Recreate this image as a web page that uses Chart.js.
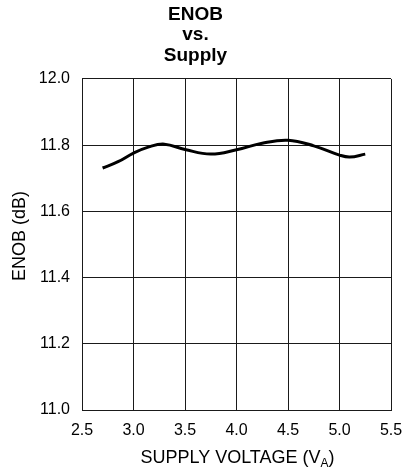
<!DOCTYPE html>
<html>
<head>
<meta charset="utf-8">
<script src="https://cdn.jsdelivr.net/npm/chart.js@4/dist/chart.umd.min.js"></script>
<style>
    html, body { margin: 0; padding: 0; background: #ffffff; }
    #wrap { width: 406px; height: 472px; position: relative; }
</style>
</head>
<body>
<div id="wrap"><canvas id="enob-chart"></canvas></div>
<script>
// Dados
const supplyVoltage = [2.7, 2.85, 3.0, 3.15, 3.3, 3.5, 3.75, 4.0, 4.25, 4.5, 4.75, 5.0, 5.1, 5.25];
const enobValues = [11.731, 11.750, 11.776, 11.795, 11.803, 11.787, 11.773, 11.786, 11.806, 11.815, 11.798, 11.770, 11.764, 11.773];
const xTickValues = [2.5, 3.0, 3.5, 4.0, 4.5, 5.0, 5.5];
const yTickValues = [11.0, 11.2, 11.4, 11.6, 11.8, 12.0];

const FONT = "'Liberation Sans', Arial, Helvetica, sans-serif";

// Títulos dos eixos (o do eixo X tem subscrito: V com A em baixo)
const axisTitlesPlugin = {
    id: 'axisTitles',
    afterDraw(chart) {
        const ctx = chart.ctx;
        const area = chart.chartArea;
        ctx.save();
        ctx.fillStyle = '#000000';

        // Eixo X
        const main = 'SUPPLY VOLTAGE (V';
        const sub = 'A';
        const tail = ')';
        ctx.textBaseline = 'alphabetic';
        ctx.textAlign = 'left';
        ctx.font = '18px ' + FONT;
        const wMain = ctx.measureText(main).width;
        const wTail = ctx.measureText(tail).width;
        ctx.font = '12px ' + FONT;
        const wSub = ctx.measureText(sub).width;
        const total = wMain + wSub + wTail;
        let x = (area.left + area.right) / 2 + 1 - total / 2;
        const y = 463;
        ctx.font = '18px ' + FONT;
        ctx.fillText(main, x, y);
        x += wMain;
        ctx.font = '12px ' + FONT;
        ctx.fillText(sub, x, y + 4);
        x += wSub;
        ctx.font = '18px ' + FONT;
        ctx.fillText(tail, x, y);

        // Eixo Y
        ctx.translate(20, 236);
        ctx.rotate(-Math.PI / 2);
        ctx.textAlign = 'center';
        ctx.textBaseline = 'middle';
        ctx.font = '18px ' + FONT;
        ctx.fillText('ENOB (dB)', 0, 0);
        ctx.restore();
    }
};

const chartCtx = document.getElementById('enob-chart');
new Chart(chartCtx, {
    type: 'line',
    data: {
        datasets: [{
            data: supplyVoltage.map((v, i) => ({ x: v, y: enobValues[i] })),
            borderColor: '#000000',
            borderWidth: 3,
            pointRadius: 0,
            tension: 0.4,
            fill: false
        }]
    },
    options: {
        responsive: true,
        maintainAspectRatio: false,
        animation: false,
        layout: {
            padding: { left: 0, right: 15, top: 0, bottom: 0 }
        },
        plugins: {
            legend: { display: false },
            tooltip: { enabled: false },
            title: {
                display: true,
                text: ['ENOB', 'vs.', 'Supply'],
                color: '#000000',
                font: { family: FONT, size: 19, weight: 'bold', lineHeight: 1.087 },
                padding: { top: 4, bottom: 13 }
            }
        },
        scales: {
            x: {
                type: 'linear',
                min: 2.5,
                max: 5.5,
                afterFit: function(scale) {
                    scale.height = 62;
                    // sem espaço extra para o último rótulo
                    scale.paddingLeft = 0;
                    scale.paddingRight = 0;
                },
                afterBuildTicks: function(scale) {
                    scale.ticks = xTickValues.map(v => ({ value: v }));
                },
                grid: {
                    color: '#1a1a1a',
                    lineWidth: 1,
                    drawTicks: false
                },
                border: { color: '#1a1a1a', width: 1 },
                ticks: {
                    color: '#000000',
                    padding: 11,
                    maxRotation: 0,
                    font: { family: FONT, size: 16 },
                    callback: function(value) { return Number(value).toFixed(1); }
                }
            },
            y: {
                type: 'linear',
                min: 11.0,
                max: 12.0,
                afterFit: function(scale) { scale.width = 82; },
                afterBuildTicks: function(scale) {
                    scale.ticks = yTickValues.map(v => ({ value: v }));
                },
                grid: {
                    color: '#1a1a1a',
                    lineWidth: 1,
                    drawTicks: false
                },
                border: { color: '#1a1a1a', width: 1 },
                ticks: {
                    color: '#000000',
                    padding: 12,
                    font: { family: FONT, size: 16 },
                    callback: function(value) { return Number(value).toFixed(1); }
                }
            }
        }
    },
    plugins: [axisTitlesPlugin]
});
</script>
</body>
</html>
